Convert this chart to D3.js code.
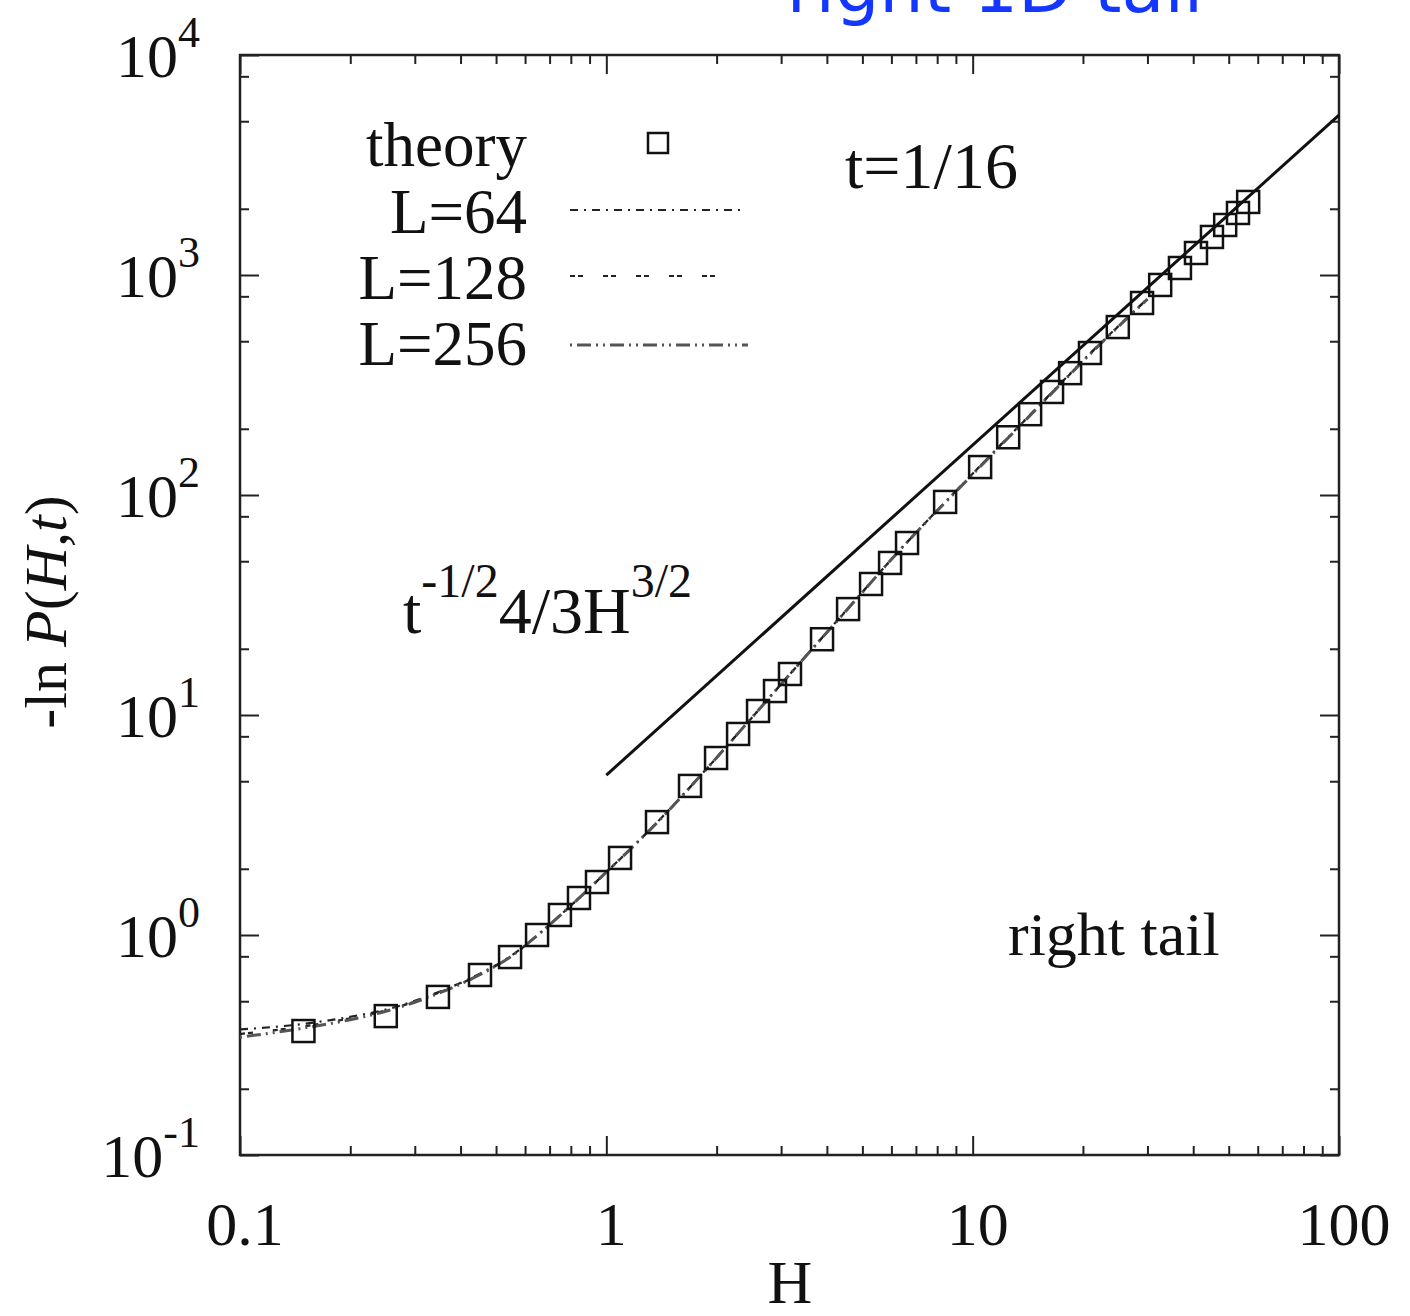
<!DOCTYPE html>
<html>
<head>
<meta charset="utf-8">
<script src="https://cdn.jsdelivr.net/npm/d3@7"></script>
<style>
  body { margin: 0; background: #fff; }
  svg { display: block; }
  text { font-family: "Liberation Serif", "Times New Roman", serif; fill: #111; }
</style>
</head>
<body>
<script>
// theory points (H, -ln P)
const theoryH = [0.149, 0.250, 0.347, 0.452, 0.546, 0.647, 0.747, 0.842, 0.943, 1.09,
  1.375, 1.692, 1.993, 2.289, 2.595, 2.887, 3.172, 3.88, 4.57, 5.28,
  5.95, 6.62, 8.41, 10.48, 12.5, 14.35, 16.47, 18.45, 20.9, 24.9,
  29.0, 32.5, 36.8, 40.7, 45.0, 48.9, 53.0, 56.5]
const theoryV = [0.366, 0.428, 0.523, 0.658, 0.794, 1.0, 1.233, 1.473, 1.741, 2.24,
  3.26, 4.76, 6.375, 8.2, 10.43, 12.85, 15.36, 22.1, 30.3, 39.4,
  49.1, 60.5, 93.0, 134, 183, 233, 294, 358, 442, 580,
  746, 901, 1076, 1259, 1489, 1688, 1914, 2148]

// simulation curves
const simH = [0.1, 0.15, 0.2, 0.25, 0.35, 0.45, 0.55, 0.65, 0.8, 1.0, 1.4, 2, 3, 4.5, 6.5, 10, 15, 22, 30]
const L64V = [0.372, 0.395, 0.425, 0.458, 0.552, 0.665, 0.805, 1.0, 1.36, 1.93, 3.35, 6.4, 13.8, 29.7, 59, 125, 250, 478, 780]
const L128V = [0.355, 0.385, 0.418, 0.454, 0.548, 0.66, 0.80, 1.0, 1.36, 1.93, 3.34, 6.4, 13.8, 29.6, 59, 125, 249, 476, 778]
const L256V = [0.343, 0.378, 0.412, 0.45, 0.545, 0.658, 0.80, 1.0, 1.36, 1.93, 3.34, 6.4, 13.8, 29.6, 59, 124, 248, 475, 776]

// asymptote t^-1/2 4/3 H^3/2 with t=1/16
const fitH = [1, 100]
const fitV = [5.33, 5333]

const xMajor = [0.1, 1, 10, 100]
const xLabels = ["0.1", "1", "10", "100"]
const yMajor = [0.1, 1, 10, 100, 1000, 10000]
const yExp = ["-1", "0", "1", "2", "3", "4"]

const W = 1410, H = 1316
const mLeft = 240, mRight = 1339, mTop = 55, mBottom = 1155

const svg = d3.select("body").append("svg").attr("width", W).attr("height", H)

const x = d3.scaleLog().domain([0.1, 100]).range([mLeft, mRight])
const y = d3.scaleLog().domain([0.1, 10000]).range([mBottom, mTop])

// minor ticks
const xMinor = []
for (const d of [0.1, 1, 10]) for (let k = 2; k <= 9; k++) xMinor.push(d * k)
const yMinor = []
for (const d of [0.1, 1, 10, 100, 1000]) for (const k of [2, 5, 8]) yMinor.push(d * k)

function axes(gen, pos, major, minor) {
  svg.append("g").attr("transform", pos)
    .call(gen.tickValues(major).tickSize(-19).tickFormat(""))
    .call(g => g.select(".domain").remove())
    .selectAll("line").attr("stroke", "#222").attr("stroke-width", 2)
  svg.append("g").attr("transform", pos)
    .call(gen.tickValues(minor).tickSize(-9).tickFormat(""))
    .call(g => g.select(".domain").remove())
    .selectAll("line").attr("stroke", "#222").attr("stroke-width", 2)
}
axes(d3.axisBottom(x), `translate(0,${mBottom})`, xMajor, xMinor)
axes(d3.axisTop(x), `translate(0,${mTop})`, xMajor, xMinor)
axes(d3.axisLeft(y), `translate(${mLeft},0)`, yMajor, yMinor)
axes(d3.axisRight(y), `translate(${mRight},0)`, yMajor, yMinor)

svg.append("rect")
  .attr("x", mLeft).attr("y", mTop).attr("width", mRight - mLeft).attr("height", mBottom - mTop)
  .attr("fill", "none").attr("stroke", "#222").attr("stroke-width", 2.5)

// tick labels
svg.selectAll(".xl").data(xMajor).enter().append("text")
  .attr("x", d => x(d) + 5).attr("y", 1245)
  .attr("text-anchor", "middle").attr("font-size", 62)
  .text((d, i) => xLabels[i])

const yl = svg.selectAll(".yl").data(yMajor).enter().append("text")
  .attr("x", 200).attr("y", d => y(d) + 22)
  .attr("text-anchor", "end").attr("font-size", 62)
yl.append("tspan").text("10")
yl.append("tspan").attr("font-size", 44).attr("dy", -30).text((d, i) => yExp[i])

// axis titles
svg.append("text").attr("x", 790).attr("y", 1303).attr("text-anchor", "middle")
  .attr("font-size", 62).text("H")
const yt = svg.append("text").attr("transform", "translate(66,612) rotate(-90)")
  .attr("text-anchor", "middle").attr("font-size", 60)
yt.append("tspan").text("-ln ")
yt.append("tspan").attr("font-style", "italic").text("P")
yt.append("tspan").text("(")
yt.append("tspan").attr("font-style", "italic").text("H,t")
yt.append("tspan").text(")")

// blue title, cut at the top as in the source figure
svg.append("text").attr("x", 995).attr("y", 12).attr("text-anchor", "middle")
  .attr("font-size", 70).style("font-family", "'DejaVu Sans', sans-serif")
  .style("fill", "#1437ff").text("right 1D tail")

// curves
const line = d3.line().x(d => x(d[0])).y(d => y(d[1]))
const series = [
  { name: "L=64", v: L64V, dash: "8,6,2,6", color: "#222", width: 2.2 },
  { name: "L=128", v: L128V, dash: "5,3,5,20", color: "#222", width: 2.2 },
  { name: "L=256", v: L256V, dash: "2,5,14,5,2,5", color: "#555", width: 3 }
]
series.forEach(s => {
  svg.append("path").datum(simH.map((h, i) => [h, s.v[i]]))
    .attr("d", line.curve(d3.curveMonotoneX)).attr("fill", "none")
    .attr("stroke", s.color).attr("stroke-width", s.width).attr("stroke-dasharray", s.dash)
})

svg.append("path").datum(fitH.map((h, i) => [h, fitV[i]]))
  .attr("d", d3.line().x(d => x(d[0])).y(d => y(d[1])))
  .attr("fill", "none").attr("stroke", "#111").attr("stroke-width", 3)

const sq = 22
svg.selectAll(".pt").data(theoryH).enter().append("rect")
  .attr("x", (d) => x(d) - sq / 2).attr("y", (d, i) => y(theoryV[i]) - sq / 2)
  .attr("width", sq).attr("height", sq)
  .attr("fill", "none").attr("stroke", "#111").attr("stroke-width", 2.5)

// legend
const lg = svg.append("g")
const legendText = ["theory", "L=64", "L=128", "L=256"]
const legendY = [166, 233, 299, 365]
legendText.forEach((t, i) => {
  lg.append("text").attr("x", 527).attr("y", legendY[i]).attr("text-anchor", "end")
    .attr("font-size", 63).text(t)
})
lg.append("rect").attr("x", 648).attr("y", 133).attr("width", 20).attr("height", 20)
  .attr("fill", "none").attr("stroke", "#111").attr("stroke-width", 2.5)
const legendLineY = [210, 276, 345]
const legendEnd = [743, 735, 748]
series.forEach((s, i) => {
  lg.append("line").attr("x1", 570).attr("x2", legendEnd[i])
    .attr("y1", legendLineY[i]).attr("y2", legendLineY[i])
    .attr("stroke", s.color).attr("stroke-width", s.width).attr("stroke-dasharray", s.dash)
})

// annotations
svg.append("text").attr("x", 845).attr("y", 188).attr("font-size", 66).text("t=1/16")
svg.append("text").attr("x", 1008).attr("y", 955).attr("font-size", 62).text("right tail")
const an = svg.append("text").attr("x", 403).attr("y", 633).attr("font-size", 66)
an.append("tspan").text("t")
an.append("tspan").attr("font-size", 48).attr("dy", -36).text("-1/2")
an.append("tspan").attr("dy", 36).text("4/3H")
an.append("tspan").attr("font-size", 48).attr("dy", -36).text("3/2")
</script>
</body>
</html>
